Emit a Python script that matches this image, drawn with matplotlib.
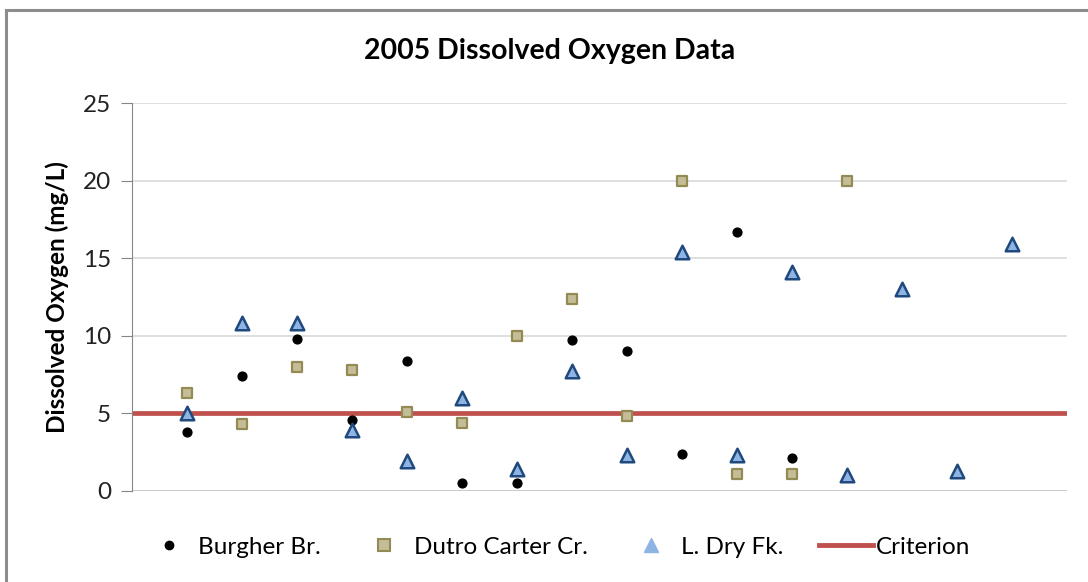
import numpy as np
import matplotlib.pyplot as plt
from matplotlib.patches import Rectangle
from matplotlib.lines import Line2D

plt.rcParams['font.family'] = ['Lato', 'DejaVu Sans']

# sample number along the x axis (no tick labels shown)
burgher_x = [1, 2, 3, 4, 5, 6, 7, 8, 9, 10, 11, 12]
burgher_y = [3.8, 7.4, 9.8, 4.6, 8.4, 0.5, 0.5, 9.7, 9.0, 2.4, 16.7, 2.1]

dutro_x = [1, 2, 3, 4, 5, 6, 7, 8, 9, 10, 11, 12, 13]
dutro_y = [6.3, 4.3, 8.0, 7.8, 5.1, 4.4, 10.0, 12.4, 4.8, 20.0, 1.1, 1.1, 20.0]

dry_x = [1, 2, 3, 4, 5, 6, 7, 8, 9, 10, 11, 12, 13, 14, 15, 16]
dry_y = [5.0, 10.8, 10.8, 3.9, 1.9, 6.0, 1.4, 7.7, 2.3, 15.4, 2.3, 14.1, 1.0, 13.0, 1.3, 15.9]

criterion = 5
y_ticks = [0, 5, 10, 15, 20, 25]

fig = plt.figure(figsize=(10.88, 5.82), dpi=100)
ax = fig.add_axes([0.1213, 0.1564, 0.8594, 0.6666])

# chart frame (runs off the right / bottom edge in the original)
fig.patches.append(Rectangle((6 / 1088, -0.05), 1.1, 1 - 10 / 582 + 0.05,
                             transform=fig.transFigure, fill=False,
                             edgecolor='#8c8c8c', linewidth=2.2))

ax.axhline(criterion, color='#C0504D', linewidth=3.4, zorder=2)
ax.scatter(burgher_x, burgher_y, s=40, marker='o', color='black', zorder=3)
ax.scatter(dutro_x, dutro_y, s=62, marker='s', facecolor='#C4BD97',
           edgecolor='#948A54', linewidth=1.6, zorder=3)
ax.scatter(dry_x, dry_y, s=95, marker='^', facecolor='#8EB4E3',
           edgecolor='#1F497D', linewidth=1.8, zorder=4)

ax.set_xlim(0, 17)
ax.set_ylim(0, 25)
ax.set_yticks(y_ticks)
ax.set_xticks([])
ax.grid(axis='y', color='#d9d9d9', linewidth=1.2)
ax.set_axisbelow(True)
for side in ['top', 'right', 'bottom']:
    ax.spines[side].set_visible(False)
ax.spines['left'].set_color('#868686')
ax.axhline(0, color='#c8c8c8', linewidth=1.2, zorder=1)
ax.tick_params(axis='y', length=8, color='#868686', labelsize=17.5, pad=7,
               labelcolor='#222222')

ax.set_ylabel('Dissolved Oxygen (mg/L)', fontsize=17.5, fontweight='bold', labelpad=10)
fig.text(0.505, 0.912, '2005 Dissolved Oxygen Data', ha='center', va='center',
         fontsize=20.5, fontweight='bold')

handles = [
    Line2D([], [], linestyle='none', marker='o', color='black', markersize=6),
    Line2D([], [], linestyle='none', marker='s', markerfacecolor='#C4BD97',
           markeredgecolor='#948A54', markeredgewidth=1.5, markersize=8),
    Line2D([], [], linestyle='none', marker='^', markerfacecolor='#8EB4E3',
           markeredgecolor='#8EB4E3', markersize=10),
    Line2D([], [], color='#C0504D', linewidth=3.5),
]
labels = ['Burgher Br.', 'Dutro Carter Cr.', 'L. Dry Fk.', 'Criterion']
fig.legend(handles, labels, loc='center', bbox_to_anchor=(0.511, 0.06), ncol=4,
           frameon=False, fontsize=17.5, handlelength=2.2, handletextpad=0.12,
           columnspacing=1.5)

fig.savefig('out.png', dpi=100)
